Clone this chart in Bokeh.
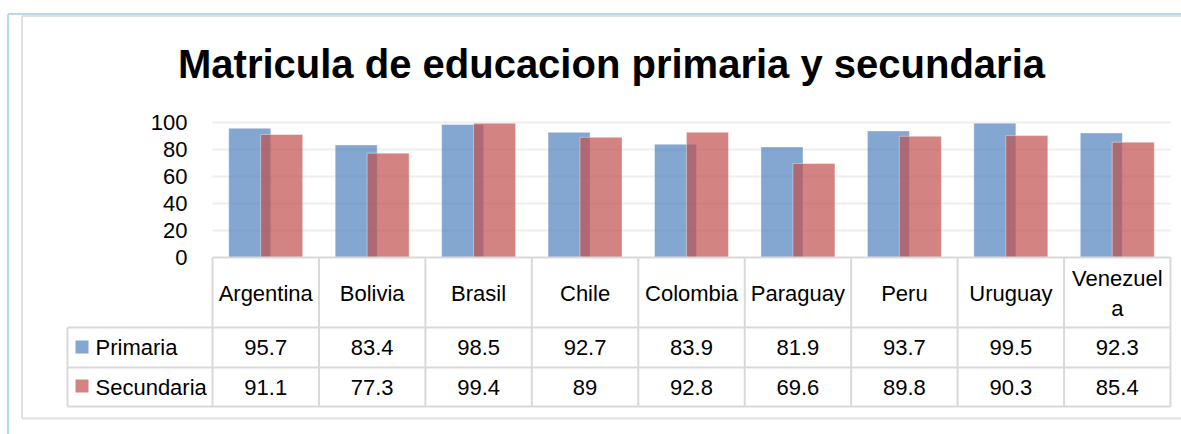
from bokeh.plotting import figure
from bokeh.models import Range1d
from bokeh.core.properties import value
from bokeh.embed import file_html
from bokeh.resources import INLINE

# ---------------- data ----------------
categories = ["Argentina", "Bolivia", "Brasil", "Chile", "Colombia",
              "Paraguay", "Peru", "Uruguay", "Venezuela"]
header_labels = ["Argentina", "Bolivia", "Brasil", "Chile", "Colombia",
                 "Paraguay", "Peru", "Uruguay", "Venezuel\na"]
series_names = ["Primaria", "Secundaria"]
primaria = [95.7, 83.4, 98.5, 92.7, 83.9, 81.9, 93.7, 99.5, 92.3]
secundaria = [91.1, 77.3, 99.4, 89, 92.8, 69.6, 89.8, 90.3, 85.4]
primaria_labels = ["95.7", "83.4", "98.5", "92.7", "83.9", "81.9", "93.7", "99.5", "92.3"]
secundaria_labels = ["91.1", "77.3", "99.4", "89", "92.8", "69.6", "89.8", "90.3", "85.4"]
y_ticks = [0, 20, 40, 60, 80, 100]
y_tick_labels = ["0", "20", "40", "60", "80", "100"]
title_text = "Matricula de educacion primaria y secundaria"

# ---------------- layout ----------------
W, H = 1181, 434
OX, OY = 0, 0                  # page offset of the figure
PLOT_L, PLOT_R = 212, 1170     # page x of bar area
Y0_PAGE, Y100_PAGE = 257, 122  # page y of value 0 and 100
cw = (PLOT_R - PLOT_L) / len(categories)
yu = (Y0_PAGE - Y100_PAGE) / 100.0

def px(x):
    return (x - PLOT_L) / cw

def py(y):
    return (Y0_PAGE - y) / yu

FONT = "Liberation Sans"
BLUE = "#4f81bd"
RED = "#c0504d"
TEXT_SIZE = "22px"

p = figure(width=W, height=H, output_backend="svg", toolbar_location=None,
           x_range=Range1d(px(OX), px(OX + W)), y_range=Range1d(py(OY + H), py(OY)),
           x_axis_location=None, y_axis_location=None, min_border=0)
p.grid.visible = False
p.outline_line_color = None
p.background_fill_color = "white"

# outer frame
p.segment(x0=[px(7.5), px(7.5)], y0=[py(13.5), py(13.5)], x1=[px(1181), px(7.5)], y1=[py(13.5), py(434)],
          line_color="#b4dde6", line_width=2)
p.segment(x0=[px(21.5), px(21.5), px(21.5)], y0=[py(15.5), py(15.5), py(418)],
          x1=[px(1181), px(21.5), px(1181)], y1=[py(15.5), py(418), py(418)],
          line_color="#e0e0e0", line_width=2)

# title
p.text(x=[px(611)], y=[py(63)], text=[title_text], text_font=value(FONT),
       text_font_style="bold", text_font_size="40px", text_align="center",
       text_baseline="middle", text_color="black")

# gridlines
grid_vals = [t for t in y_ticks if t > 0]
p.segment(x0=[0] * len(grid_vals), x1=[len(categories)] * len(grid_vals),
          y0=grid_vals, y1=grid_vals, line_color="#eeeeee", line_width=2)

# y tick labels
p.text(x=[px(187)] * len(y_ticks), y=y_ticks, text=y_tick_labels, text_font=value(FONT),
       text_font_size=TEXT_SIZE, text_align="right", text_baseline="middle", text_color="black")

# bars
xs = [i + 0.5 for i in range(len(categories))]
off = 0.15
bw = 0.395
p.vbar(x=[x - off for x in xs], top=primaria, width=bw, bottom=0,
       fill_color=BLUE, fill_alpha=0.7, line_color="white", line_alpha=0.4, line_width=1)
p.vbar(x=[x + off for x in xs], top=secundaria, width=bw, bottom=0,
       fill_color=RED, fill_alpha=0.7, line_color="white", line_alpha=0.4, line_width=1)

# table
row_top = py(327)
row_mid = py(367)
row_bot = py(406)
left = px(67)
n = len(categories)
TABLE_C = "#d9d9d9"
p.segment(x0=[0, left, left, left], x1=[n, n, n, n], y0=[0, row_top, row_mid, row_bot],
          y1=[0, row_top, row_mid, row_bot], line_color=TABLE_C, line_width=2)
p.segment(x0=list(range(n + 1)), x1=list(range(n + 1)), y0=[0] * (n + 1), y1=[row_bot] * (n + 1),
          line_color=TABLE_C, line_width=2)
p.segment(x0=[left], x1=[left], y0=[row_top], y1=[row_bot], line_color=TABLE_C, line_width=2)

# header labels
p.text(x=xs, y=[py(293)] * n, text=header_labels, text_font=value(FONT), text_font_size=TEXT_SIZE,
       text_align="center", text_baseline="middle", text_color="black", text_line_height=1.2)
# values
p.text(x=xs, y=[(row_top + row_mid) / 2] * n, text=primaria_labels, text_font=value(FONT),
       text_font_size=TEXT_SIZE, text_align="center", text_baseline="middle", text_color="black")
p.text(x=xs, y=[(row_mid + row_bot) / 2] * n, text=secundaria_labels, text_font=value(FONT),
       text_font_size=TEXT_SIZE, text_align="center", text_baseline="middle", text_color="black")
# legend keys
p.rect(x=[px(81.5)] * 2, y=[py(346.5), py(385.5)], width=13, height=13,
       width_units="screen", height_units="screen", fill_color=[BLUE, RED], fill_alpha=0.7,
       line_color=None)
p.text(x=[px(95)] * 2, y=[(row_top + row_mid) / 2, (row_mid + row_bot) / 2], text=series_names,
       text_font=value(FONT), text_font_size=TEXT_SIZE, text_align="left",
       text_baseline="middle", text_color="black")

open("out.html", "w").write(file_html(p, INLINE))
